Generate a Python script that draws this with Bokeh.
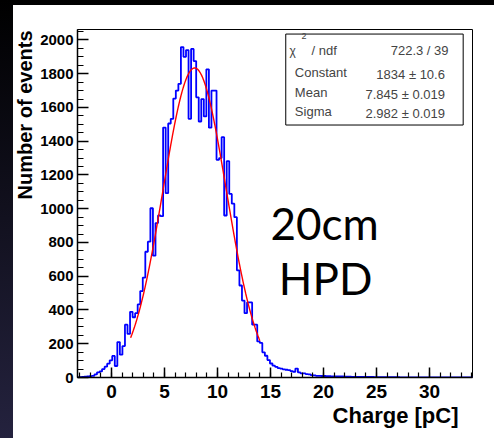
import numpy as np
from bokeh.plotting import figure
from bokeh.models import Range1d, SingleIntervalTicker, Label, BoxAnnotation, Title
from bokeh.embed import file_html
from bokeh.resources import INLINE

# ---- data ----
bin_width = 0.24
first_edge = -3.292
counts = [1, 2, 3, 5, 6, 8, 10, 18, 30, 36, 50, 64, 82, 102,
          128, 68, 210, 135, 186, 313, 258, 389, 357, 381, 433, 512, 592, 745,
          805, 1003, 722, 915, 960, 956, 1481, 1092, 1505, 1533, 1653, 1700,
          1740, 1958, 1900, 1940, 1533, 1947, 1875, 1660, 1517, 1650, 1547,
          1826, 1480, 1700, 1700, 1290, 1300, 1424, 960, 1282, 1088, 1030, 950,
          635, 545, 456, 381, 445, 445, 313, 313, 214, 205, 149, 129, 103, 83,
          70, 63, 56, 52, 48, 46, 44, 38, 34, 53, 30, 24, 24, 20, 18, 14, 13,
          10, 10, 9, 9, 8, 8, 7, 7, 6, 6, 6, 5, 5, 5, 4, 4, 4, 4, 3, 3, 3, 3, 3,
          2, 2, 2, 2, 2, 2, 2, 2, 2, 2,
          1, 1, 1, 1, 1, 1, 1, 1, 1, 1, 1, 1, 1, 1, 1, 1, 1, 1,
          1, 0, 1, 1, 0, 1, 0, 1, 0, 0, 1]

fit_constant = 1834.0
fit_mean = 7.845
fit_sigma = 2.982
fit_range = [1.8, 14.0]

stat_names = ["Constant", "Mean", "Sigma"]
stat_values = ["1834 \u00b1  10.6", "7.845 \u00b1  0.019", "2.982 \u00b1  0.019"]
chi2_text = "722.3 / 39"

x_ticks_interval = 5
y_ticks_interval = 200

edges = first_edge + bin_width * np.arange(len(counts) + 1)
steps_y = np.append(np.array(counts, dtype=float), counts[-1])

xs_fit = np.linspace(fit_range[0], fit_range[1], 300)
ys_fit = fit_constant * np.exp(-0.5 * ((xs_fit - fit_mean) / fit_sigma) ** 2)

p = figure(width=494, height=438, output_backend="svg", toolbar_location=None,
           x_range=Range1d(-3.21, 34.06), y_range=Range1d(0, 2062),
           min_border_left=77, min_border_right=22, min_border_top=29,
           min_border_bottom=61)
p.styles = {
    "background": "linear-gradient(#ffffff, #ffffff) 13px 5px / 100% 100% no-repeat, "
                  "linear-gradient(to bottom, #000000, #24223e)",
}
p.border_fill_alpha = 0
p.background_fill_color = "white"
p.outline_line_color = "black"
p.outline_line_width = 1
p.xgrid.visible = False
p.ygrid.visible = False

p.xaxis.ticker = SingleIntervalTicker(interval=x_ticks_interval, num_minor_ticks=5)
p.yaxis.ticker = SingleIntervalTicker(interval=y_ticks_interval, num_minor_ticks=4)
for ax in (p.xaxis, p.yaxis):
    ax.axis_line_width = 1.5
    ax.axis_line_color = "black"
    ax.major_tick_line_width = 1.5
    ax.minor_tick_line_width = 1.2
    ax.major_tick_out = 0
    ax.minor_tick_out = 0
    ax.major_label_text_font = "Liberation Sans"
    ax.major_label_text_font_style = "bold"
    ax.major_label_text_color = "black"
p.xaxis.major_tick_in = 10
p.xaxis.minor_tick_in = 5
p.yaxis.major_tick_in = 11
p.yaxis.minor_tick_in = 6
p.xaxis.major_label_text_font_size = "19px"
p.yaxis.major_label_text_font_size = "15px"
p.xaxis.major_label_standoff = 7
p.yaxis.major_label_standoff = 4

# axis titles as side-panel titles (right/top aligned like ROOT)
p.add_layout(Title(text="Charge [pC]", align="right", offset=14, standoff=0,
                   text_font="Liberation Sans", text_font_style="bold",
                   text_font_size="22px", text_color="black"), "below")
p.add_layout(Title(text="Number of events", align="right", offset=1, standoff=3,
                   text_font="Liberation Sans", text_font_style="bold",
                   text_font_size="20px", text_color="black"), "left")

p.step(edges, steps_y, mode="after", line_color="#0000ff", line_width=1.8)
p.line(xs_fit, ys_fit, line_color="#ff0000", line_width=1.4)

# stats box
p.add_layout(BoxAnnotation(left=16.44, right=33.18, bottom=1496, top=2035,
                           fill_color="white", fill_alpha=1.0,
                           line_color="black", line_alpha=1.0, line_width=1))
stat_font = "Liberation Sans"
p.add_layout(Label(x=16.8, y=1936, text="\u03c7", text_font=stat_font,
                   text_font_size="12px", text_align="left", text_baseline="alphabetic"))
p.add_layout(Label(x=17.93, y=2025, text="2", text_font=stat_font,
                   text_font_size="9px", text_align="left", text_baseline="alphabetic"))
p.add_layout(Label(x=18.87, y=1936, text="/ ndf", text_font=stat_font,
                   text_font_size="13px", text_align="left", text_baseline="alphabetic"))
p.add_layout(Label(x=31.8, y=1940, text=chi2_text, text_font=stat_font,
                   text_font_size="13px", text_align="right", text_baseline="alphabetic"))
name_y = [1808, 1689, 1577]
val_y = [1794, 1676, 1565]
for nm, vl, ny, vy in zip(stat_names, stat_values, name_y, val_y):
    p.add_layout(Label(x=17.3, y=ny, text=nm, text_font=stat_font,
                       text_font_size="13px", text_align="left", text_baseline="alphabetic"))
    p.add_layout(Label(x=31.8, y=vy, text=vl, text_font=stat_font,
                       text_font_size="13px", text_align="right", text_baseline="alphabetic"))

# big annotation
p.add_layout(Label(x=20.1, y=917, text="20cm", text_font="Lato",
                   text_font_size="44px", text_align="center", text_baseline="alphabetic",
                   text_color="black"))
p.add_layout(Label(x=20.2, y=592, text="HPD", text_font="Lato",
                   text_font_size="44px", text_align="center", text_baseline="alphabetic",
                   text_color="black"))

open("out.html", "w").write(file_html(p, INLINE))
